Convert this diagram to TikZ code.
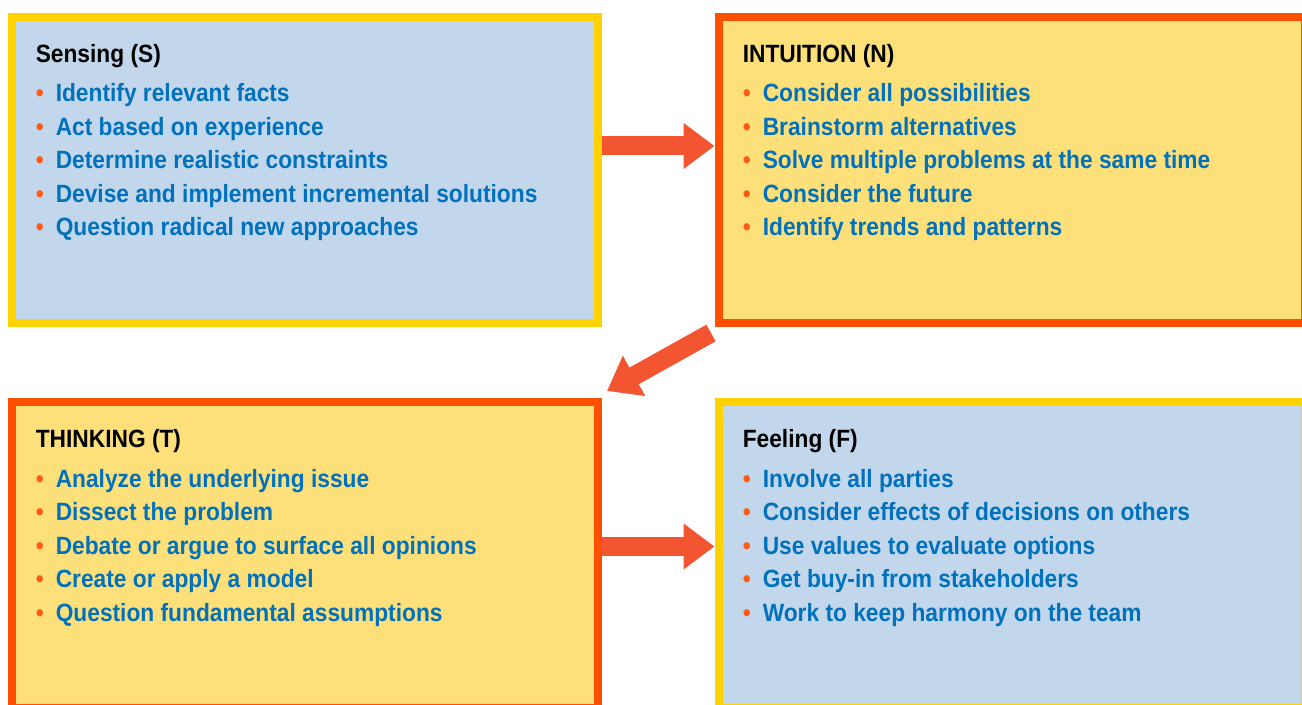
\documentclass[tikz,border=0pt]{standalone}
\usepackage{fontspec}
\setmainfont{Liberation Sans}[FakeStretch=0.91]
\usetikzlibrary{positioning,arrows.meta}

\definecolor{sunyel}{HTML}{FFD200}
\definecolor{flame}{HTML}{FF4F00}
\definecolor{skyfill}{HTML}{C2D7EB}
\definecolor{creamfill}{HTML}{FEE07A}
\definecolor{arrowred}{HTML}{F2552F}
\definecolor{txtblue}{HTML}{0071BC}
\definecolor{dotred}{HTML}{FF5B14}

\newcommand\dotmark{\makebox[15pt][l]{\textcolor{dotred}{\textbullet}}}

\begin{document}
\begin{tikzpicture}[x=0.75pt,y=-0.75pt,
		box/.style={line width=6pt, minimum width=439.5pt, minimum height=229.5pt, inner sep=0pt},
		coolbox/.style={box, draw=sunyel, fill=skyfill},
		warmbox/.style={box, draw=flame, fill=creamfill},
		ttl/.style={anchor=base west, inner sep=0pt, font=\fontsize{18.75}{22}\selectfont\bfseries, text=black},
		itm/.style={anchor=base west, inner sep=0pt, font=\fontsize{18.75}{22}\selectfont\bfseries, text=txtblue},
		arr/.style={draw=arrowred, line width=14.25pt, -{Triangle[length=23.25pt, width=33pt]}}]
		
		\useasboundingbox (0,0) rectangle (1302,705);
		\clip (0,0) rectangle (1302,705);
		
		\node[coolbox] (S) at (304.5,170) {};
		\node[warmbox, right=84.75pt of S] (N) {};
		\node[warmbox, below=53.25pt of S] (T) {};
		\node[coolbox, right=84.75pt of T] (F) {};
		
		\node[ttl] (Stitle) at ([shift={(28,50)}]S.north west) {Sensing (S)};
		\node[ttl] (Ntitle) at ([shift={(28,50)}]N.north west) {INTUITION (N)};
		\node[ttl] (Ttitle) at ([shift={(28,50)}]T.north west) {THINKING (T)};
		\node[ttl] (Ftitle) at ([shift={(28,50)}]F.north west) {Feeling (F)};
		
		\foreach \t [count=\i] in {Identify relevant facts, Act based on experience, Determine realistic constraints, Devise and implement incremental solutions, Question radical new approaches}
			\node[itm] (S\i) at ([shift={(28,{55.5+33.5*\i})}]S.north west) {\dotmark\t};
		\foreach \t [count=\i] in {Consider all possibilities, Brainstorm alternatives, Solve multiple problems at the same time, Consider the future, Identify trends and patterns}
			\node[itm] (N\i) at ([shift={(28,{55.5+33.5*\i})}]N.north west) {\dotmark\t};
		\foreach \t [count=\i] in {Analyze the underlying issue, Dissect the problem, Debate or argue to surface all opinions, Create or apply a model, Question fundamental assumptions}
			\node[itm] (T\i) at ([shift={(28,{55.5+33.5*\i})}]T.north west) {\dotmark\t};
		\foreach \t [count=\i] in {Involve all parties, Consider effects of decisions on others, Use values to evaluate options, Get buy-in from stakeholders, Work to keep harmony on the team}
			\node[itm] (F\i) at ([shift={(28,{55.5+33.5*\i})}]F.north west) {\dotmark\t};
		
		\coordinate (dtail) at (711,333);
		\coordinate (dtip) at (607,391);
		
		\draw[arr] ([yshift=18pt]S.east) -- ([yshift=18pt]S.east -| N.west);
		\draw[arr] (dtail) -- (dtip);
		\draw[arr] ([yshift=6.4pt]T.east) -- ([yshift=6.4pt]T.east -| F.west);
		
\end{tikzpicture}
\end{document}
